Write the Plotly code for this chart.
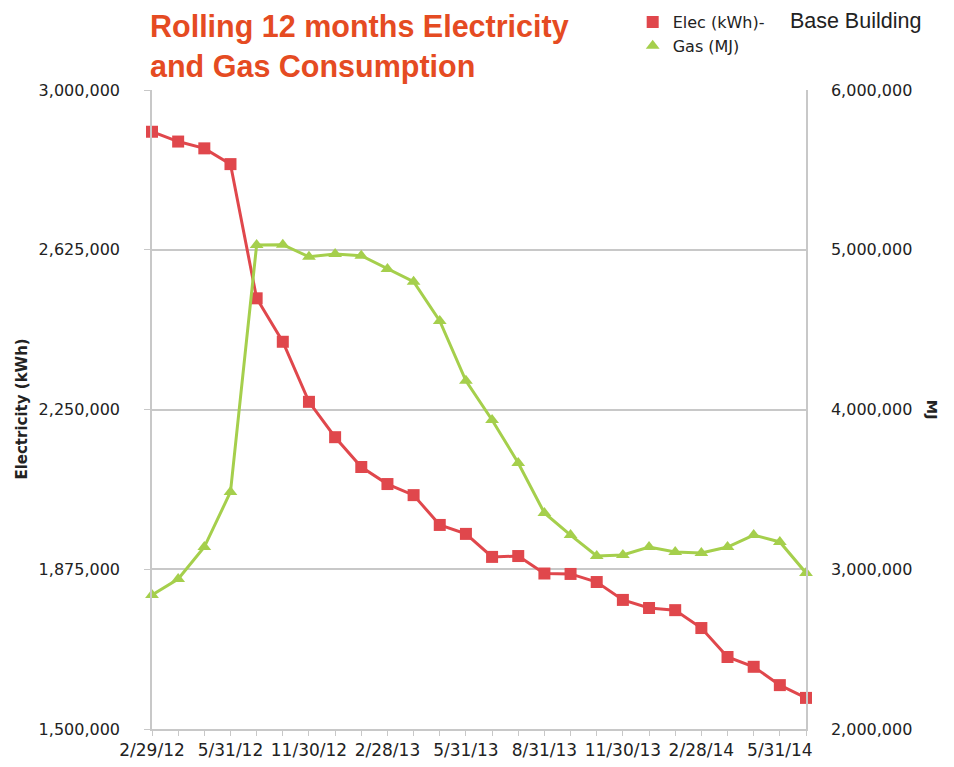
import plotly.graph_objects as go

# Data
periods = list(range(26))
tick_labels = ["2/29/12", "5/31/12", "11/30/12", "2/28/13", "5/31/13",
               "8/31/13", "11/30/13", "2/28/14", "5/31/14"]
tick_positions = [0, 3, 6, 9, 12, 15, 18, 21, 24]

elec_kwh = [2902000, 2879000, 2863000, 2826000, 2511000, 2409000, 2268000,
            2185000, 2115000, 2075000, 2049000, 1979000, 1958000, 1904000,
            1906000, 1865000, 1864000, 1845000, 1803000, 1784000, 1779000,
            1737000, 1669000, 1646000, 1603000, 1573000]
gas_mj = [2839000, 2939000, 3139000, 3484000, 5030000, 5032000, 4956000,
          4973000, 4963000, 4879000, 4800000, 4554000, 4180000, 3934000,
          3665000, 3352000, 3214000, 3083000, 3089000, 3139000, 3108000,
          3102000, 3139000, 3214000, 3171000, 2977000]

elec_name = ('Elec (kWh)-\u00a0\u00a0\u00a0\u00a0\u00a0<span style="font-family:Liberation Sans;'
             'font-size:21.5px">Base Building</span>')
gas_name = "Gas (MJ)"
title_lines = ["Rolling 12 months Electricity", "and Gas Consumption"]

RED = "#E0474C"
GREEN = "#A5CF4C"
GRID = "#C8C8C8"
TICKFONT = dict(family="DejaVu Sans", size=16, color="#222222")
XTICKFONT = dict(family="DejaVu Sans", size=17, color="#222222")
TITLE_FONT = dict(family="Liberation Sans", size=30.5, color="#E54B22")

fig = go.Figure()
# lines (no legend)
fig.add_trace(go.Scatter(x=periods, y=elec_kwh, mode="lines",
                         line=dict(color=RED, width=3), showlegend=False,
                         yaxis="y", hoverinfo="skip"))
fig.add_trace(go.Scatter(x=periods, y=gas_mj, mode="lines",
                         line=dict(color=GREEN, width=3), showlegend=False,
                         yaxis="y2", hoverinfo="skip"))
# markers (legend entries)
fig.add_trace(go.Scatter(x=periods, y=elec_kwh, mode="markers", name=elec_name,
                         marker=dict(symbol="square", size=12, color=RED),
                         yaxis="y", cliponaxis=False))
fig.add_trace(go.Scatter(x=periods, y=gas_mj, mode="markers", name=gas_name,
                         marker=dict(symbol="triangle-up", size=12, color=GREEN),
                         yaxis="y2", cliponaxis=False))

ticktext = []
for p in periods:
    if p in tick_positions:
        ticktext.append(tick_labels[tick_positions.index(p)])
    else:
        ticktext.append("")

fig.update_layout(
    width=946, height=759,
    margin=dict(l=144, r=148, t=82, b=38, autoexpand=False),
    paper_bgcolor="white", plot_bgcolor="white",
    showlegend=True,
    legend=dict(x=0.735, y=1.133, xanchor="left", yanchor="top",
                xref="paper", yref="paper",
                font=dict(family="DejaVu Sans", size=16, color="#222222"),
                bgcolor="rgba(0,0,0,0)", tracegroupgap=0, itemwidth=30),
    xaxis=dict(range=[0, 25], tickmode="array", tickvals=periods,
               ticktext=ticktext, showgrid=False, zeroline=False,
               showline=True, linecolor=GRID, linewidth=1.5,
               ticks="outside", ticklen=5, tickcolor=GRID,
               tickfont=XTICKFONT, tickangle=0),
    yaxis=dict(range=[1500000, 3000000], tickmode="array",
               tickvals=[1500000, 1875000, 2250000, 2625000, 3000000],
               tickformat=",d", showgrid=True, gridcolor=GRID, gridwidth=1.5,
               zeroline=False, showline=True, linecolor=GRID, linewidth=1.5,
               ticks="outside", ticklen=6, tickcolor=GRID,
               tickfont=TICKFONT, ticklabelstandoff=21),
    yaxis2=dict(range=[2000000, 6000000], overlaying="y", side="right",
                tickmode="array",
                tickvals=[2000000, 3000000, 4000000, 5000000, 6000000],
                tickformat=",d", showgrid=False, zeroline=False,
                showline=True, linecolor=GRID, linewidth=1.5,
                ticks="", tickfont=TICKFONT, ticklabelstandoff=20),
    annotations=[
        dict(text="<b>" + "<br>".join(title_lines) + "</b>",
             x=-0.004, y=1.1283, xref="paper", yref="paper", showarrow=False,
             align="left", xanchor="left", yanchor="top", borderpad=0,
             font=TITLE_FONT),
        dict(text="<b>Electricity (kWh)</b>", textangle=-90,
             x=-0.217, y=0.5, xref="paper", yref="paper", showarrow=False,
             font=dict(family="DejaVu Sans", size=15, color="#222222")),
        dict(text="<b>MJ</b>", textangle=90,
             x=1.209, y=0.5, xref="paper", yref="paper", showarrow=False,
             font=dict(family="DejaVu Sans", size=14.5, color="#222222")),
    ],
)

fig.write_html("out.html")
